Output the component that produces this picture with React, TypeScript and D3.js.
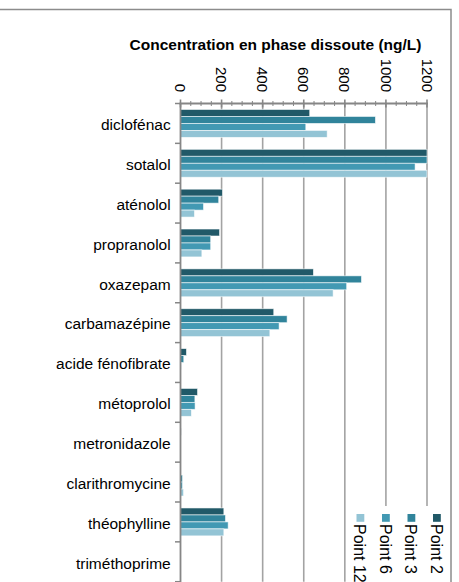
import React from "react";
import * as d3 from "d3";

const categories = [
  "diclofénac",
  "sotalol",
  "aténolol",
  "propranolol",
  "oxazepam",
  "carbamazépine",
  "acide fénofibrate",
  "métoprolol",
  "metronidazole",
  "clarithromycine",
  "théophylline",
  "triméthoprime",
];

const seriesNames = ["Point 2", "Point 3", "Point 6", "Point 12"];
const point2 = [629, 1200, 204, 190, 647, 454, 29, 83, 3, 1, 211, 0];
const point3 = [949, 1200, 186, 147, 881, 519, 16, 70, 2, 10, 219, 0];
const point6 = [610, 1142, 112, 147, 809, 480, 3, 71, 1, 10, 232, 0];
const point12 = [714, 1200, 68, 104, 743, 435, 1, 53, 1, 15, 211, 0];
const seriesValues = [point2, point3, point6, point12];
const seriesColors = ["#215968", "#31849b", "#4299b3", "#93c4d5"];
const xTicks = [0, 200, 400, 600, 800, 1000, 1200];
const title = "Concentration en phase dissoute (ng/L)";

const W = 459;
const H = 582;
const plotLeft = 180.5;
const plotRight = 427;
const plotTop = 103.5;
const bandStep = 39.85;
const plotBottom = plotTop + bandStep * categories.length;
const FONT = "'Liberation Sans', Arial, Helvetica, sans-serif";

export default function App() {
  const x = d3.scaleLinear().domain([0, 1200]).range([plotLeft, plotRight]);
  const y = d3
    .scaleBand<string>()
    .domain(categories)
    .range([plotTop, plotBottom])
    .paddingInner(0.3)
    .paddingOuter(0.15);
  const inner = d3
    .scaleBand<string>()
    .domain(seriesNames)
    .range([0, y.bandwidth()]);
  const minorTicks = d3.range(0, 1201, 50);

  return (
    <svg
      width={W}
      height={H}
      style={{ position: "absolute", left: 0, top: 0, background: "#fff" }}
      fontFamily={FONT}
    >
      {/* outer border */}
      <rect x={-1} y={9.5} width={452} height={H + 10} fill="#fff" stroke="#8c8c8c" strokeWidth={1.5} />

      {/* title */}
      <text x={275.5} y={50} textAnchor="middle" fontSize={15.5} fontWeight="bold" fill="#000">
        {title}
      </text>

      {/* gridlines */}
      {xTicks.slice(1).map((t) => (
        <line key={"g" + t} x1={x(t)} x2={x(t)} y1={plotTop} y2={plotBottom} stroke="#a3a3a3" strokeWidth={1.6} />
      ))}

      {/* bars */}
      {categories.map((c, i) => (
        <g key={c}>
          {seriesNames.map((s, j) => {
            const v = Math.min(seriesValues[j][i], 1200);
            const w = x(v) - x(0);
            if (w <= 0) return null;
            return (
              <rect
                key={s}
                x={x(0)}
                y={(y(c) as number) + (inner(s) as number)}
                width={w}
                height={inner.bandwidth()}
                fill={seriesColors[j]}
                stroke="#ffffff"
                strokeOpacity={0.7}
                strokeWidth={0.8}
              />
            );
          })}
        </g>
      ))}

      {/* legend background */}
      <rect x={349} y={506} width={101} height={H - 506 + 5} fill="#fff" />
      {seriesNames.map((s, j) => {
        const cx = 436.9 - j * 25.5;
        return (
          <g key={"l" + s}>
            <rect x={cx - 3.9} y={514} width={7.8} height={7.8} fill={seriesColors[j]} />
            <text
              transform={`translate(${cx - 6},${524}) rotate(90)`}
              fontSize={16}
              fill="#000"
            >
              {s}
            </text>
          </g>
        );
      })}

      {/* x axis (top) */}
      <line x1={plotLeft - 1} x2={plotRight + 1} y1={plotTop} y2={plotTop} stroke="#868686" strokeWidth={1.8} />
      {minorTicks.map((t) => {
        const major = t % 200 === 0;
        return (
          <line
            key={"t" + t}
            x1={x(t)}
            x2={x(t)}
            y1={plotTop - (major ? 4 : 2.5)}
            y2={plotTop + (major ? 4 : 2.5)}
            stroke="#868686"
            strokeWidth={major ? 1.6 : 1}
          />
        );
      })}
      {xTicks.map((t) => (
        <text
          key={"xl" + t}
          transform={`translate(${x(t) - 5.4},${92}) rotate(90)`}
          textAnchor="end"
          fontSize={15}
          fill="#000"
        >
          {t}
        </text>
      ))}

      {/* y axis (left) */}
      <line x1={plotLeft} x2={plotLeft} y1={plotTop} y2={plotBottom + 2} stroke="#868686" strokeWidth={1.8} />
      {d3.range(categories.length + 1).map((k) => (
        <line
          key={"yt" + k}
          x1={plotLeft - 5.5}
          x2={plotLeft}
          y1={plotTop + k * bandStep}
          y2={plotTop + k * bandStep}
          stroke="#868686"
          strokeWidth={1.5}
        />
      ))}
      {categories.map((c, i) => (
        <text
          key={"yl" + c}
          x={170.7}
          y={plotTop + (i + 0.5) * bandStep + 6.8}
          textAnchor="end"
          fontSize={15.5}
          fill="#000"
        >
          {c}
        </text>
      ))}
    </svg>
  );
}
